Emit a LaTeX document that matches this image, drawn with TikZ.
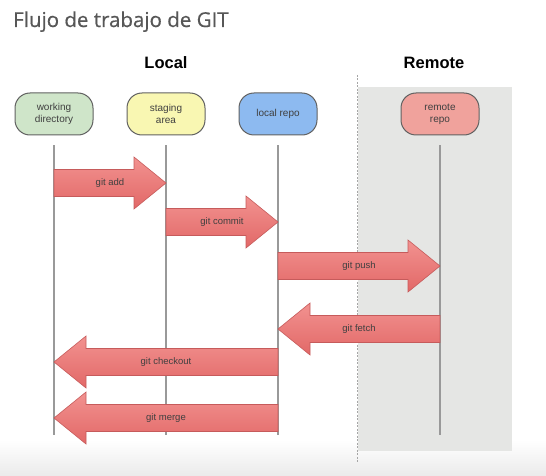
\documentclass[tikz,border=0pt]{standalone}
\usepackage{fontspec}
\setmainfont{Liberation Sans}
\newfontfamily\titlefont[FakeBold=0.6]{Open Sans}
\usetikzlibrary{calc}

\definecolor{wdgreen}{HTML}{CFE5C9}
\definecolor{sayellow}{HTML}{F9F7B2}
\definecolor{lrblue}{HTML}{8DBAF0}
\definecolor{rrred}{HTML}{F0A29C}
\definecolor{remotegray}{HTML}{E5E6E4}
\definecolor{arrowtop}{HTML}{F29290}
\definecolor{arrowbot}{HTML}{E26867}
\definecolor{arrowline}{HTML}{C65B5B}

% block arrow from lane #1 to lane #2 at height #3
\newcommand{\gitflow}[4]{%
  \path[gitarrow] let \p1=(#1), \p2=(#2), \n1={32*sign(\x2-\x1)} in
    (\x1,#3-13.5) -- (\x2-\n1,#3-13.5) -- (\x2-\n1,#3-26) -- (\x2,#3)
    -- (\x2-\n1,#3+26) -- (\x2-\n1,#3+13.5) -- (\x1,#3+13.5) -- cycle;
  \path let \p1=(#1), \p2=(#2) in
    (0.5*\x1+0.5*\x2,#3) node[flowlabel] {#4};
}

\begin{document}
\begin{tikzpicture}[x=1pt, y=-1pt]
      \useasboundingbox (0,0) rectangle (546,476);
      \shade[top color=white, bottom color=black!8] (0,440) rectangle (546,476);
      \node[anchor=base west, inner sep=0, text=black!66] (title) at (13,27)
        {\titlefont\fontsize{20.5}{24}\selectfont Flujo de trabajo de GIT};
      \node[anchor=base, font=\fontsize{16.5}{19}\selectfont\bfseries] (local) at (166,69) {Local};
      \node[anchor=base, font=\fontsize{16.5}{19}\selectfont\bfseries] (remote) at (434,69) {Remote};
      \fill[remotegray] (358,87) rectangle (512,451);
      \draw[black!35, line width=0.8pt, dash pattern=on 2pt off 1.5pt] (357,75) -- (357,463);
      \tikzstyle{gitarea} = [shape=rectangle, rounded corners=15pt, draw=black!62, line width=1pt,
        minimum width=78pt, minimum height=42pt, align=center, text=black!75,
        font=\fontsize{10}{12}\selectfont];
      \tikzstyle{lane} = [draw=black!40, line width=1.3pt];
      \tikzstyle{gitarrow} = [draw=arrowline, line width=0.6pt, top color=arrowtop, bottom color=arrowbot];
      \tikzstyle{flowlabel} = [text=black!75, font=\fontsize{9.5}{11}\selectfont, inner sep=0];
      \node (wd) [gitarea, fill=wdgreen] at (54,114) {working\\directory};
      \node (sa) [gitarea, fill=sayellow] at (166,114) {staging\\area};
      \node (lr) [gitarea, fill=lrblue] at (278,114) {local repo};
      \node (rr) [gitarea, fill=rrred] at (440,114) {remote\\repo};
      \coordinate (laneend) at (0,435);
      \foreach \n in {wd, sa, lr, rr}
        \draw[lane] ([yshift=-10pt]\n.south) -- (\n.south |- laneend);
      \gitflow{wd}{sa}{183}{git add}
      \gitflow{sa}{lr}{222}{git commit}
      \gitflow{lr}{rr}{266}{git push}
      \gitflow{rr}{lr}{329}{git fetch}
      \gitflow{lr}{wd}{362}{git checkout}
      \gitflow{lr}{wd}{418}{git merge}
    \end{tikzpicture}
\end{document}
